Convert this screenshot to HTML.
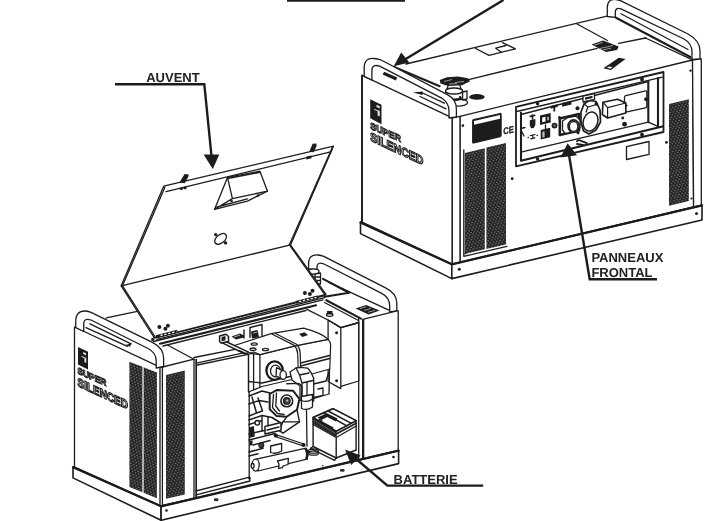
<!DOCTYPE html>
<html><head><meta charset="utf-8">
<style>
html,body{margin:0;padding:0;background:#fff;}
body{width:714px;height:521px;overflow:hidden;font-family:"Liberation Sans",sans-serif;}
svg{display:block;filter:grayscale(1)}
text{text-rendering:geometricPrecision}
text{font-family:"Liberation Sans",sans-serif;font-weight:bold;font-size:13px;fill:#222;}
.l{fill:none;stroke:#1c1c1c;stroke-width:1.3;stroke-linecap:round;stroke-linejoin:round}
.t{fill:none;stroke:#1c1c1c;stroke-width:2.1;stroke-linecap:round;stroke-linejoin:round}
.w{fill:#fff;stroke:#1c1c1c;stroke-width:1.3;stroke-linejoin:round}
.k{fill:#1c1c1c;stroke:none}
.a{fill:none;stroke:#1c1c1c;stroke-width:2.4;stroke-linecap:butt;stroke-linejoin:miter}
</style></head><body>
<svg width="714" height="521" viewBox="0 0 714 521">
<defs>
<pattern id="mesh" width="3.3" height="4.8" patternUnits="userSpaceOnUse" patternTransform="rotate(-13)">
<rect width="3.3" height="4.8" fill="#242424"/><ellipse cx="0.85" cy="1.2" rx="0.9" ry="0.5" fill="#8c8c8c"/><ellipse cx="2.5" cy="3.6" rx="0.9" ry="0.5" fill="#8c8c8c"/>
</pattern>
<pattern id="meshL" width="3.3" height="4.8" patternUnits="userSpaceOnUse" patternTransform="rotate(22)">
<rect width="3.3" height="4.8" fill="#242424"/><ellipse cx="0.85" cy="1.2" rx="0.9" ry="0.5" fill="#8c8c8c"/><ellipse cx="2.5" cy="3.6" rx="0.9" ry="0.5" fill="#8c8c8c"/>
</pattern>
</defs>
<rect width="714" height="521" fill="#fff"/>

<!-- ================= RIGHT GENERATOR ================= -->
<g id="RG">
<!-- top face lines -->
<path class="l" d="M406 64 L608 15.8"/>
<path class="l" d="M462.3 81.1 L597.2 48.4"/>
<path class="l" d="M576.2 23.5 L607.4 40.5"/>
<path class="l" d="M618.7 43.3 L645.5 38 L692 59.7"/>
<circle class="k" cx="645.5" cy="38" r="1.1"/>
<!-- top-face right edge seen through handle -->
<path class="t" d="M616 17.7 L690.3 57"/>
<path class="l" d="M621 13.7 L688 49.5"/>
<!-- small rect on top -->
<path class="l" d="M475.3 48.2 L488.9 55.4 L515.5 48.8 L502.5 42.6"/>
<path class="l" d="M506 45.5 L495.7 48.2 L501.4 52.2"/>
<!-- hinge on top -->
<path class="k" d="M591.5 44.5 L603 40.5 L618.7 46.5 L617 50 L606 52 Z"/>
<path d="M594 45.2 L603 42.3 M600 48.5 L613 45.5 M603 50 L611 48.2" stroke="#aaa" stroke-width="0.9" fill="none"/>
<!-- slot -->
<path class="k" d="M603.4 68.3 L618.7 57.8 L625.5 59 L610.8 70 Z"/>
<path d="M607 67.9 L610.5 68.6 L612.5 67 L609 66.4 Z" fill="#fff"/>
<!-- right handle -->
<path class="w" d="M607.3 16.5 L607.3 8 Q607.3 -1.5 616 -0.5 Q618.5 -0.2 621 0.8 L688 34 Q700 40.5 700 51 L700 59 L692 59.5 L692 52 Q692 43.5 684 39 L621 8.9 Q615.3 7 615.3 12.5 L615.3 17.3 Z"/>
<!-- top surface left edge (through left handle) -->
<path class="t" d="M394.2 67 L439.7 86.2"/>
<!-- left side panel -->
<path class="w" d="M362 75.4 L452.3 117.8 L452.3 264.3 L362 222 Z"/>
<path class="l" style="stroke-width:1.8" d="M362 75.4 L362 222"/>
<!-- front face -->
<path class="w" d="M460 116.3 L692.5 60 L693.6 207 L460 263 Z"/>
<path class="w" d="M452.3 117.8 L460 116.3 L460 263 L452.3 264.3Z"/>
<path class="w" d="M692.5 60 L701.3 58.9 L701.3 205.5 L693.6 207 Z"/>
<!-- recessed grip inside left handle -->
<path class="k" d="M412.7 92.6 L422.7 91.4 L422.7 94.9 Z"/>
<path class="l" d="M422.7 93 L444.3 103.2 M420 96.5 L446 108.8"/>
<path class="k" d="M382.6 74.6 L384.2 71.8 L397.3 77.6 L395.8 80.6 Z"/>
<!-- fuel cap -->
<ellipse class="w" cx="457.9" cy="102.5" rx="9.7" ry="3.6"/>
<path class="w" d="M445.6 91 L445.6 98 Q454 102.5 462.6 98 L462.6 91 Z"/>
<ellipse class="w" cx="454.1" cy="91" rx="8.5" ry="3"/>
<path class="k" d="M451 97.2 L461 96 L462 100 L452 101.5 Z"/>
<path d="M452 96.3 L459 95.5 L459 98 L452 98.8 Z" fill="#fff"/>
<path class="w" d="M462.6 92 L467 91 L467 99 L462.6 100 Z"/>
<!-- cap hinge dark blob -->
<path class="k" d="M439.7 80 L447 77.3 L458 76.5 L468 78.2 L470 81.2 L462 85.3 L448 86 L440.5 83.5 Z"/>
<path d="M444 81.5 L452 79.5 M455 82.5 L464 81.5 M449 84 L457 83.6" stroke="#bbb" stroke-width="0.8" fill="none"/><path class="l" d="M448 86 L447 89 M460 85.5 L461 89"/>
<!-- black ellipse -->
<ellipse class="k" cx="476.9" cy="96.9" rx="7.8" ry="2.8"/>
<!-- left handle -->
<path class="w" d="M364.2 76.4 L364.2 68 Q364.2 57.5 374 58.5 Q377.5 58.8 381 60 L447.4 94.7 Q456.4 99.5 456.4 109 L456.4 117 L449 118 L449 111 Q449 102.5 441.2 97.8 L379.6 66.2 Q371.9 63.5 371.9 71 L371.9 80 Z"/>
<!-- logo + text on left panel -->
<path class="k" d="M370.2 99.2 L381.5 104.7 L381.5 124.2 L370.2 118.2 Z"/>
<path d="M376.5 104.8 L379.8 106.3 L379.8 108.4 L376.5 106.9 Z M374.2 108.9 L378 110.3 L378 111.3 L374.2 109.9 Z M377.6 110 L379.8 111 L379.8 116.6 L377.6 115.6 Z" fill="#e4e4e4"/>
<g transform="matrix(1,0.44,0,1,370.2,128.7)"><text x="0" y="0" style="font-size:9.4px;fill:#fff;stroke:#1c1c1c;stroke-width:1.05px" textLength="30.7" lengthAdjust="spacingAndGlyphs">SUPER</text></g>
<g transform="matrix(1,0.464,0,1,370.2,140.6)"><text x="0" y="0" style="font-size:12.4px;fill:#fff;stroke:#1c1c1c;stroke-width:1.2px" textLength="53.2" lengthAdjust="spacingAndGlyphs">SILENCED</text></g>
<!-- vents left of front -->
<path d="M464.8 153 L484.8 148.2 L484.8 249.3 L464.8 254 Z" fill="url(#mesh)"/>
<path d="M486.4 147.6 L506 143 L506 244.5 L486.4 249 Z" fill="url(#mesh)"/>
<path class="l" d="M463.8 150 L463.8 256.3 L507 246.3"/><circle class="k" cx="465.5" cy="253.5" r="0.9"/>
<!-- right vent -->
<path d="M669 104 L688.8 99.3 L688.8 201 L669 205.7 Z" fill="url(#mesh)"/>
<circle class="k" cx="690.5" cy="70.6" r="1.2"/>
<!-- data plate -->
<path style="fill:#1c1c1c;stroke:#1c1c1c;stroke-width:1.2" d="M472.7 120.7 Q472.7 119.7 473.7 119.5 L500.1 113.5 Q501.1 113.3 501.1 114.3 L501.1 135.4 Q501.1 136.2 500.1 136.6 L473.7 143 Q472.7 143.2 472.7 142.2 Z"/>
<path d="M474 121 L500 115 L500 118.8 L474 124.8 Z" fill="#fff"/>
<text transform="matrix(1,-0.2,0,1,503.2,134.6)" style="font-size:9.5px;stroke:#1c1c1c;stroke-width:0.3px" textLength="10.5" lengthAdjust="spacingAndGlyphs">CE</text>
<circle class="k" cx="462.9" cy="125.6" r="1.3"/>
<!-- control panel -->
<path class="w" style="stroke-width:1.8" d="M516 106.8 L663.5 72 L663.5 132 L516 166.3 Z"/>
<path class="l" d="M516.8 111.5 L662.2 77.2"/>
<path class="t" d="M521 112.7 L521 160.7 L662.3 126.6"/>
<path class="t" d="M658 78.1 L658 126.6"/>
<path class="l" d="M521 114.5 L648.3 81.5"/>
<path class="t" d="M648.3 81.5 L648.3 122.1"/>
<path class="l" d="M648.3 122.1 L521 152.2"/>
<path class="l" d="M648.3 122.1 L657.2 126.2"/>
<!-- panel components -->
<circle class="k" cx="537.6" cy="103.8" r="1.7"/><circle class="k" cx="642" cy="79.5" r="1.9"/>
<circle class="k" cx="537.6" cy="159.1" r="1.7"/><circle class="k" cx="642" cy="134.6" r="1.9"/>
<!-- plate -->
<path class="w" d="M625.8 95.7 Q624.5 96 624.5 97.2 L624.5 111 Q624.5 112.4 625.8 112.1 L645.5 107.8 Q646.8 107.5 646.8 106.3 L646.8 92 Q646.8 90.5 645.5 90.9 Z"/>
<circle class="k" cx="646" cy="99.2" r="1.9"/>
<!-- breaker box -->
<path class="w" style="stroke-width:1.6" d="M603 102.2 L617.6 99.2 L625.8 103 L625.8 113 L607.6 118 L602.3 114.5 Z"/>
<path class="l" style="stroke-width:1.2" d="M603 102.2 L607.6 107.6 L625.8 103 M607.6 107.6 L607.6 118"/>
<path class="k" d="M625 103.5 L628 105.6 L625 107.6 Z"/>
<circle class="k" cx="622.7" cy="118" r="1.4"/><circle class="k" cx="624.5" cy="124.2" r="2.4"/>
<!-- big socket -->
<path class="w" style="stroke-width:1.7" d="M584 104 L589 100.5 L596 101.5 L600 110 L600.5 122 L596 130 L589 134 L583.5 131 L581 122 L581 112 Z"/>
<ellipse class="w" style="stroke-width:1.5" cx="590.5" cy="121.5" rx="7.2" ry="9.8" transform="rotate(18 590.5 121.5)"/>
<path class="l" d="M584 104 L588 107 L595 105 L596 101.5 M588 107 L586 112"/>
<path class="w" d="M583 96.2 L594.5 93.5 L594.5 99.3 L583 102 Z"/><path class="k" d="M585 97.6 L592.5 95.8 L592.5 98 L585 99.8 Z"/>
<circle class="k" cx="577.5" cy="108.3" r="2"/><circle class="k" cx="596.5" cy="104" r="1.7"/>
<!-- small socket -->
<path class="w" style="stroke-width:2.6" d="M559.8 118.5 L579 114 L579 130.5 L559.8 135 Z"/>
<path class="w" d="M562.5 121 L568 117.5 L576 116 L580 120 L580 128 L574 132 L565 133.5 L562.5 130 Z"/>
<ellipse class="w" style="stroke-width:1.6" cx="573.6" cy="126.2" rx="5.6" ry="6.3"/><ellipse class="l" cx="573.6" cy="126.4" rx="4.2" ry="4.9"/>
<circle class="k" cx="559.5" cy="117.5" r="1.5"/><circle class="k" cx="578" cy="132.8" r="1.5"/>
<!-- knob -->
<circle class="k" cx="554.5" cy="125.6" r="2.9"/><circle cx="554.5" cy="125.6" r="1.3" fill="#666"/>
<!-- switches -->
<path class="k" d="M540 115.5 L550.7 113 L550.7 122.5 L540 125 Z"/><path d="M542.2 117.5 L545.5 116.7 L545.5 121.5 L542.2 122.3 Z" fill="#fff"/><path d="M547 117 L549 116.5 L549 120 L547 120.5 Z" fill="#999"/>
<path class="k" d="M540.7 130 L550.2 127.8 L550.2 137.2 L540.7 139.4 Z"/><path d="M542.3 131.8 L544.6 131.2 L544.6 137 L542.3 137.6 Z" fill="#bbb"/>
<path class="l" d="M545.5 125 L545.5 129"/>
<!-- indicator -->
<path class="k" d="M529.8 120.3 L535.4 119 L535.4 124.8 L533.8 128 L531 128.3 L529.8 125.4 Z"/><path class="l" style="stroke-width:1.6" d="M532.5 115 L532.5 119 M530.2 116.4 L534.8 115.3"/>
<!-- symbol -->
<path class="l" style="stroke-width:1.2" d="M530.5 135.6 L535 134.5 M532.8 135 L532.8 138 M530.8 138.8 L534.8 137.8"/><circle class="k" cx="528.3" cy="137.5" r="0.8"/><circle class="k" cx="537.2" cy="135.4" r="0.8"/>
<path class="l" d="M521 128.5 L525 127.5 M522 132 L524 136"/>
<!-- small top bits -->
<path class="k" d="M550.7 106 L557.6 104.3 L557.6 107 L555.2 107.6 L555.2 111.3 L553.4 111.7 L553.4 108 L550.7 108.7 Z"/>
<path class="k" d="M562.2 103 L571.4 100.8 L571.4 104.5 L562.2 106.7 Z"/>
<!-- ground symbol -->
<path class="l" style="stroke-width:1.8" d="M577 141.4 Q578 139.3 580.5 140.6 L586.8 143.2 M577 144 L583 145"/>
<path class="w" d="M626.5 146.6 L649 141.5 L649 154.4 L626.5 159.5 Z"/><circle class="k" cx="666.4" cy="142.4" r="1.4"/><circle class="k" cx="691.5" cy="198.5" r="1.1"/>
<!-- base -->
<path class="w" style="stroke-width:1.6" d="M360.5 222.4 L451.8 264.3 L451.8 278.6 L360.5 233.6 Z"/>
<path class="w" style="stroke-width:1.6" d="M451.8 264.3 L702 205.4 L702 220 L451.8 278.6 Z"/>
<path class="t" style="stroke-width:2.3" d="M360.5 222.4 L451.8 264.3 L702 205.4"/>
<circle class="k" cx="459.3" cy="269.3" r="1.5"/><circle class="k" cx="696.5" cy="213.5" r="1.5"/><circle class="k" cx="512.2" cy="178.7" r="1.4"/>
</g>

<!-- ================= LEFT GENERATOR ================= -->
<g id="LG">
<!-- right handle (behind lid) -->
<path class="w" d="M308.6 269 L308.6 264 Q308.6 254 318 255 Q321 255.4 323.8 256.3 L384.6 287.3 Q396.8 293 396.8 303 L396.8 311 L389.7 312 L389.7 306 Q389.7 297.5 381.3 293.2 L324 264 Q317 261.5 317 267 L317 270 Z"/>
<ellipse class="w" cx="313.5" cy="271.5" rx="5.5" ry="2.6"/>
<path class="w" d="M315 274 L315 284 L320.5 284 L320.5 273 Z"/>
<path class="l" d="M315 277 L320.5 277 M315 280.5 L320.5 280.5"/>
<!-- top face right/back edges -->
<path class="t" d="M323 278.9 L349.2 292.7 L324.6 296.8"/>
<path class="l" d="M328.9 282.3 L388.9 310.1"/>
<!-- right box -->
<path class="w" d="M362.7 319.4 L398.2 310.6 L398.2 451 L362.7 459.5 Z"/>
<path class="l" style="stroke-width:2.2" d="M363.2 320 L363.2 459"/>
<path class="l" d="M358.7 318.5 L358.7 460"/>
<path class="k" d="M355.6 308.4 L366.1 305.1 L379.6 310.6 L368.6 314.4 Z"/>
<path d="M360 308.6 L366 306.8 M364 310.5 L371 308.4 M368 312.3 L375 310.3" stroke="#bbb" stroke-width="0.8" fill="none"/>
<!-- top-right opening edge (double) -->
<path class="t" d="M326.3 300.2 L361 318.6"/>
<path class="l" d="M324.5 302.5 L358.5 320.5"/>
<!-- inner electrical box -->
<path class="w" d="M306.9 309.3 L328 320 L340.8 327.6 L356 323.5 L358.7 322.5 L358.7 381 L340.8 386.3 L340.8 388.6 L328.1 381.5 L328.1 320 Z"/>
<path class="l" d="M328.1 320 L340.8 327.6 L340.8 386.3 M340.8 327.6 L358.7 322.5"/>
<circle class="k" cx="336.6" cy="332.7" r="1.5"/><circle class="k" cx="336.6" cy="380.8" r="1.5"/>
<ellipse class="w" cx="329.7" cy="314.8" rx="3.2" ry="1.6"/><path class="k" d="M327 311 L332.4 311 L332.4 314.5 L327 314.5 Z"/>
<!-- rails (top of opening) -->
<path class="t" d="M156 337.2 L324.6 295.3"/>
<path class="l" d="M157 339.4 L324.6 297.6"/>
<path class="l" d="M153.5 341.5 L323 299.8"/>
<path class="t" d="M160 343.8 L316 305.3"/>
<path class="l" d="M163 346 L306 310.5"/>
<!-- top face left strip -->
<path class="l" d="M167.9 345.3 L194 359.2"/>
<!-- front top rail of opening -->
<path class="l" d="M194 357.5 L241.4 348.2 M197.5 362.8 L246 352.4 M197.5 365 L247 354.6"/>
<!-- left white door panel -->
<path class="l" d="M249.2 357 L249.2 477.5"/>
<!-- sill -->
<path class="l" d="M196 491 L248.6 477.4 M196 494.8 L250 481 M249 477 L250 481"/><circle class="k" cx="249.6" cy="478.3" r="1.2"/>
<!-- ===== engine & interior ===== -->
<g id="ENG">
<!-- engine top cover -->
<path class="w" style="stroke-width:1.2" d="M248.5 353.4 L259.9 354.6 L295.2 345.9 L328.1 339.4 Q330.8 342 330.6 345.4 L329.8 369 L312 374 L298.5 378 L262 386.5 L248.5 392 Z"/>
<path class="w" style="stroke-width:1.2" d="M234.4 345.5 L271.2 333.6 L303.6 328.1 Q322 333 328.1 339.4 L295.2 345.9 L259.9 354.6 L254 352 Q250 352 248.5 355 Z"/>
<path class="l" d="M248.5 355 L248.5 392 M253.6 353.3 L253.6 390 M259.9 354.6 L259.9 387"/>
<path class="l" style="stroke-width:1.2" d="M272.3 334.2 L294.3 345.4 Q297.5 349 297.7 353.8 L298.5 378"/>
<path class="l" style="stroke-width:1.2" d="M275.5 333.5 L296.5 344.2 Q300 348 300.2 353 L300.8 377"/>
<path class="l" d="M248.7 381.5 L262 383 L298.5 374.5"/>
<path class="l" d="M300.8 363 L329.5 355.5 M300.8 366 L329.5 358.5"/>
<ellipse class="l" cx="254.2" cy="344" rx="3" ry="1.2"/><ellipse class="l" cx="253.1" cy="349.2" rx="3" ry="1.2"/><ellipse class="l" cx="265.5" cy="349.5" rx="3" ry="1.2"/>
<!-- bracket strip + rail hinge parts -->
<path class="w" style="stroke-width:1.4" d="M220.8 342.1 L224.7 341 L249.1 352.3 L245.1 354 Z"/>
<path class="k" d="M239 349.8 L247 353.2 L245.1 354.3 L237 350.6 Z"/>
<path class="w" style="stroke-width:1.5" d="M219.6 336 L226 334.2 L228.5 336.5 L228.5 341.5 L221 343 L219.6 341.5 Z"/>
<path class="k" d="M221.5 337 L225.5 336 L225.5 340.3 L221.5 341.3 Z"/>
<path class="k" d="M231.5 336.5 L240 333.6 L244 335.5 L244 337.5 L236 339.5 Z"/><path d="M234 336.8 L240 335.3" stroke="#ccc" stroke-width="0.8"/>
<path class="l" style="stroke-width:1.4" d="M244 330 L244 338 M250 327.5 L250 337.5 M262 324.5 L262 335.5 M250 327.5 L262 324.5"/>
<path class="k" d="M251 331.5 L257.5 330 L259 337 L252 338.6 Z"/><path d="M253 333 L257 332.2" stroke="#ccc" stroke-width="0.8"/>
<path class="k" d="M299 334 L304.5 332.2 L308 335 L302.5 337 Z"/>
<!-- choke knob -->
<ellipse cx="274.6" cy="370.6" rx="8.2" ry="9.2" fill="#fff" stroke="#1c1c1c" stroke-width="2.3"/>
<ellipse class="l" cx="275.5" cy="371" rx="5" ry="5.8"/>
<path class="w" d="M276.5 367.6 L283 370.8 L283 379.2 L276 376.2 Z"/>
<ellipse class="w" cx="283.2" cy="375" rx="3.2" ry="4.3"/>
<!-- carburetor / intake -->
<path class="w" style="stroke-width:1.3" d="M290 372 L296 368 L300.2 367.3 L307.8 368.2 L311 372.5 L313.7 378.3 L313.7 401 L306 403.5 L300 400 L300 386 L292 380 Z"/>
<path class="l" style="stroke-width:1.3" d="M296 368 L299.5 375 L309 373 M299.5 375 L302 383 L313 380.5 M302 383 L302 399 M307 382 L307 401"/>
<path class="l" d="M313.7 384 L326 381 L329 372 M313.7 397.5 L323 395.5 L323 388 L318 389 M329.5 369 L329 394 L313.7 398.5"/>
<!-- fuel filter -->
<path class="w" d="M301.5 396.5 L312.5 394.5 L312.5 407 Q307 411 301.5 408.5 Z"/>
<path class="l" d="M301.5 400.5 Q307 403 312.5 399"/>
<path class="l" d="M306.5 410.5 L307 446"/>
<!-- recoil / muffler round -->
<path class="w" style="stroke-width:2" d="M269.7 394 L276.7 390.1 L293.2 390.8 L299.5 399 L297 409.8 L286.8 416.8 L276.7 416.1 L269.7 409.2 Z"/>
<path class="l" style="stroke-width:1.3" d="M273.5 394.5 L272.5 407.5 L277.5 413.5 L284 414.5 M276.5 393 L275.8 406 L279.5 411"/>
<circle class="w" style="stroke-width:1.6" cx="286.8" cy="400.9" r="5.9"/>
<circle cx="286.8" cy="400.9" r="3.3" fill="#444" stroke="#1c1c1c" stroke-width="1.3"/>
<circle cx="287.3" cy="400.5" r="1.1" fill="#ccc"/>
<path class="l" style="stroke-width:1.4" d="M286.8 383.8 L297.5 383.4 Q302 384 302 388 L301.4 397"/>
<path class="w" style="stroke-width:1.4" d="M297 409.8 L299.5 421.8 L283 433.2 L279.2 430.7 L283 421.8 L286.8 416.8 Z"/>
<path class="l" d="M283 421.8 L299.5 421.8"/>
<!-- lower block -->
<path class="l" style="stroke-width:1.5" d="M249 396 L262 391 L270 393 M249 404 L259 400.5 L268 402 M252 397 L256.5 413 L249 416 M258 398 L262.5 411 L256.5 413"/>
<path class="l" style="stroke-width:1.5" d="M249 420 L262 415.5 L272 417.5 L280 422.5 L276 428 L262 431 L249 434"/>
<path class="l" style="stroke-width:1.4" d="M262 415.5 L262 431 M268 416.8 L268 429.5 M249 424.5 L262 420.5"/>
<circle class="w" style="stroke-width:1.4" cx="257.3" cy="422.8" r="2.3"/>
<path class="w" style="stroke-width:1.5" d="M265 426.5 L281 422.5 L281 430.2 L265 434 Z"/>
<path class="l" style="stroke-width:1.3" d="M267 430 L279 427"/>
<path class="k" d="M249 427.5 L253.8 426 L254.8 436.5 L249 438 Z"/>
<path class="k" d="M249.5 441 L252.5 440.2 L252.5 445 L249.5 445.8 Z"/>
<path class="l" style="stroke-width:1.5" d="M249 440 L275 433.5 M253 445 L270 440.5 M249 452 L263 448.3 M249 456 L258 453.7"/>
<circle cx="261.3" cy="445.3" r="2.4" fill="#444" stroke="#1c1c1c" stroke-width="1.2"/>
<!-- strut -->
<path d="M276 435.8 L303.6 445" stroke="#1c1c1c" stroke-width="3.2" fill="none"/>
<path d="M277.5 436.3 L302 444.4" stroke="#fff" stroke-width="0.9" fill="none"/>
<circle class="k" cx="275.7" cy="435.6" r="2"/><circle class="k" cx="303.6" cy="444.9" r="2"/>
<!-- cup -->
<path class="w" d="M270.6 446 L281.6 443.5 L281.6 451 Q276 454.5 270.6 452.5 Z"/>
<!-- muffler cylinder -->
<path class="w" style="stroke-width:1.2" d="M256.3 459.2 L306.1 448.2 Q309 453 307 459.2 L258 471 Z"/>
<path d="M305.5 448.5 Q308.6 453 306.3 459.5" stroke="#1c1c1c" stroke-width="2.6" fill="none"/>
<ellipse class="w" style="stroke-width:1.3" cx="255.6" cy="465.1" rx="3.6" ry="6"/>
<ellipse class="w" cx="252.6" cy="465.8" rx="1.5" ry="2.3"/>
<path class="w" d="M277.4 461 L288.4 458.4 L288 464.5 L283 466 L282.5 467.7 L278.5 468.3 Q280 464.5 277.4 461 Z"/>
<!-- floor bits -->
<ellipse class="l" cx="313.5" cy="451" rx="5" ry="2.2"/><ellipse class="l" cx="313.5" cy="453" rx="5" ry="2.2"/>
<circle class="k" cx="322.8" cy="465.8" r="0.8"/>

<!-- battery -->
<path class="w" style="stroke-width:1.4" d="M313.1 417.5 L333 408.7 L356.1 420.6 L356.1 450 L336.2 458 L313.1 446.5 Z"/>
<path class="l" style="stroke-width:1.4" d="M336.2 437 L336.2 458 M313.1 424.5 L336.2 437.5 L356.1 426"/>
<path d="M313.1 417.5 L336.2 431.2 L336.2 436.6 L313.1 423.2 Z" fill="#2a2a2a" stroke="#1c1c1c" stroke-width="1"/>
<path d="M314 420.3 L335.5 433.4" stroke="#999" stroke-width="0.7" fill="none" stroke-dasharray="1.4 1"/>
<path class="l" style="stroke-width:1.6" d="M336.2 431.2 L356.1 420.6 M336.2 434 L356.1 423.3"/>
<path class="w" style="stroke-width:1.5" d="M313.1 417.5 L333 408.7 L356.1 420.6 L336.2 431.2 Z"/>
<path class="l" style="stroke-width:1.5" d="M328 411 L351 423.2 M323.5 413 L346.5 425.7"/>
<path d="M317.5 417.6 L327 413.2 L337.5 418.6 L335.8 421.5 L327.2 417 L321.5 420 Z" fill="#1c1c1c"/>
<path d="M321 422 L333 428.5 M318.5 419.5 L322 421.5" stroke="#1c1c1c" stroke-width="2.2" fill="none"/>
<path class="l" d="M313.1 446.5 L310.5 448.3 L334.5 460.3 L336.2 458"/>
</g>
<!-- left side panel -->
<path class="w" d="M74.5 327 L160.6 367.4 L160.6 506 L74.5 467 Z"/>
<path class="w" d="M160 367.4 L162.6 367 L194 359.2 L194 498.5 L162.6 505.5 L160 506 Z"/>
<path class="l" d="M162.4 367 L162.4 505.5"/>
<path class="l" style="stroke-width:1.7" d="M196.2 359.5 L196.2 497"/>
<!-- vents -->
<path d="M129.4 361.7 L142.4 366.8 L142.4 492.3 L129.4 487.1 Z" fill="url(#meshL)"/>
<path d="M143.6 367.3 L156.9 372.4 L156.9 498.3 L143.6 492.8 Z" fill="url(#meshL)"/>
<path d="M166 374.9 L184.8 370.6 L184.8 494.6 L166 498.8 Z" fill="url(#mesh)"/>
<!-- logo/text -->
<path class="k" d="M78 347 L88 351.8 L88 369.6 L78 364.6 Z"/>
<path d="M83.2 352 L86 353.3 L86 355.2 L83.2 353.9 Z M81.5 356 L84.8 357.3 L84.8 358.2 L81.5 356.9 Z M84.4 357.2 L86.3 358.1 L86.3 363 L84.4 362.1 Z" fill="#e4e4e4"/>
<g transform="matrix(1,0.44,0,1,77.5,373.6)"><text x="0" y="0" style="font-size:9.2px;fill:#fff;stroke:#1c1c1c;stroke-width:1.05px" textLength="28.7" lengthAdjust="spacingAndGlyphs">SUPER</text></g>
<g transform="matrix(1,0.464,0,1,77.5,386)"><text x="0" y="0" style="font-size:12px;fill:#fff;stroke:#1c1c1c;stroke-width:1.2px" textLength="50.5" lengthAdjust="spacingAndGlyphs">SILENCED</text></g>
<path class="l" d="M106.2 317.9 L138.6 311.1"/>
<!-- left handle -->
<path class="w" d="M75.7 327.5 L75.7 322 Q75.7 310.5 85.5 311 Q88.5 311.2 91 312.3 L152.4 342.3 Q163.6 348 163.6 358 L163.6 366.5 L156.2 368 L156.2 361 Q156.2 352.5 148 348.5 L91 320 Q83.7 317.5 83.7 324 L83.7 331.5 Z"/>
<path class="l" d="M90 323.8 L131.1 343.8 M86 327.6 L127.4 346.3"/><path class="k" d="M125.5 345 L131.5 343.2 L130 346.8 Z"/>
<!-- base -->
<path class="w" style="stroke-width:1.6" d="M73 467.1 L161.1 506.3 L161.1 520.3 L73 477.9 Z"/>
<path class="w" style="stroke-width:1.6" d="M161.1 506.3 L398.6 450.6 L398.6 463.6 L161.1 520.3 Z"/>
<path class="t" style="stroke-width:2.3" d="M73 467.1 L161.1 506.3 L398.6 450.6"/>
<circle class="k" cx="166.5" cy="510.5" r="1.3"/><ellipse class="l" cx="216.2" cy="499.8" rx="1.8" ry="0.8"/><ellipse class="l" cx="342.3" cy="470.4" rx="1.8" ry="0.8"/><circle class="k" cx="393.5" cy="457" r="1.3"/>
<!-- lid -->
<path class="w" d="M163.7 186.2 L333.5 146.2 L290.5 244.9 L326 294.4 L154.4 338 L121.2 285.8 Z"/>
<path class="l" d="M121.2 285.8 L290.5 244.9"/>
<path class="l" d="M166 191.7 L330.5 151.8"/>
<path class="l" d="M164.9 187.2 L122.5 285.8 L155.2 337"/>
<path class="l" d="M332.3 147.5 L289.4 244.8 L325 294.9"/>
<circle class="k" cx="159.4" cy="327" r="2"/><circle class="k" cx="165.4" cy="328.7" r="2"/><circle class="k" cx="167.9" cy="325.7" r="2"/>
<circle class="k" cx="304.9" cy="292.9" r="2"/><circle class="k" cx="309.9" cy="294.1" r="2"/><circle class="k" cx="312.5" cy="290.7" r="2"/>
<path d="M156 336.6 L177.5 331.3" stroke="#1c1c1c" stroke-width="3" fill="none"/><path d="M160.5 335.5 L176.5 331.55" stroke="#fff" stroke-width="1.3" stroke-dasharray="2.2 1.8" fill="none"/>
<path d="M296 302.4 L318 297" stroke="#1c1c1c" stroke-width="3" fill="none"/><path d="M299 301.7 L316.5 297.4" stroke="#fff" stroke-width="1.3" stroke-dasharray="2.2 1.8" fill="none"/>
<circle class="k" cx="152.7" cy="339.4" r="1.6"/>
<!-- lid hinges -->
<path class="k" d="M179.6 182.3 L184.6 174 L188.8 174.4 L188.2 177 L184.6 183.2 Z"/><ellipse class="k" cx="181.2" cy="188.8" rx="1.7" ry="1.3"/><ellipse class="k" cx="185" cy="187.9" rx="1.7" ry="1.3"/>
<path class="k" d="M309.3 151.8 L312.6 143.8 L316.6 143.6 L316.4 146.4 L313.6 152.2 Z"/><path class="k" d="M306.4 156.6 L311.5 155.4 L311.5 158.2 L306.4 159.4 Z"/>
<!-- scoop -->
<path class="w" d="M227.5 177.4 L259.9 171.2 L267.4 191.1 L247.4 201.1 L214.5 209.4 Z"/>
<path class="l" d="M227.5 177.4 L232.4 198.6 L267.4 191.1 M214.5 209.4 L232.4 198.6 M217 207 L247.4 198.8"/>
<path class="l" style="stroke-width:1.6" d="M227.5 178.5 L259.9 172.3"/>
<circle class="k" cx="231.5" cy="201" r="1.3"/><circle class="k" cx="258" cy="195.5" r="1.3"/>
<!-- ring -->
<ellipse class="l" cx="220.6" cy="238.9" rx="6.8" ry="4.2" transform="rotate(-40 220.6 238.9)"/>
<circle class="k" cx="215.7" cy="234.6" r="1.7"/><circle class="k" cx="225.6" cy="242.9" r="1.7"/>
</g>

<!-- ================= LABELS ================= -->
<g id="LBL">
<path class="a" d="M287 0.5 L405 0.5"/>
<path class="a" style="stroke-width:2.4" d="M503.5 0 L404 60"/>
<path class="k" d="M393.7 66.2 L401.2 52.4 L409.4 62.4 Z"/>
<text x="146.2" y="81.5">AUVENT</text>
<path class="a" d="M115 84.2 L204.3 84.2 L211.5 156"/>
<path class="k" d="M212.8 169 L203.6 154.4 L219.3 154.4 Z"/>
<text x="591.4" y="261.8">PANNEAUX</text>
<text x="591.4" y="276.8">FRONTAL</text>
<path class="a" d="M569 155 L589.7 279.3 L657 279.3"/>
<path class="k" d="M567.6 143.2 L560.5 157.6 L577 155.3 Z"/>
<text x="393.6" y="483.9">BATTERIE</text>
<path class="a" d="M483.2 485.6 L387.4 485.6 L355 458"/>
<path class="k" d="M345 449.4 L351.2 464.9 L360.6 455.4 Z"/>
</g>
</svg>
</body></html>
